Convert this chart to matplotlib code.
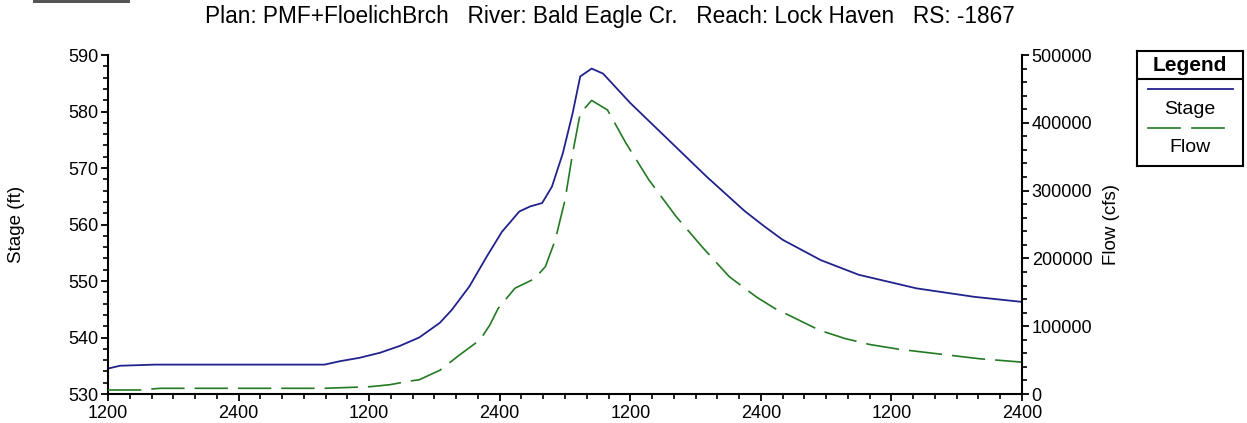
import matplotlib
matplotlib.use("Agg")
import matplotlib.pyplot as plt
from matplotlib.patches import Rectangle
import numpy as np

plt.rcParams['font.family'] = ['Liberation Sans', 'DejaVu Sans']

# hydrograph at RS -1867, time in hours from the first 1200
stage_hours = [0.0, 1.1, 4.3, 19.9, 21.3, 23.1, 25.0, 26.8, 28.6, 30.5, 31.6, 33.2,
               34.8, 36.2, 37.8, 38.8, 39.9, 40.8, 41.8, 42.7, 43.4, 44.45, 45.5, 48.0,
               51.5, 55.0, 58.5, 60.3, 62.0, 65.5, 69.0, 74.3, 79.6, 84.0]
stage_ft = [534.5, 535.0, 535.2, 535.2, 535.8, 536.4, 537.3, 538.5, 540.0, 542.6, 544.9, 549.0,
            554.3, 558.7, 562.3, 563.2, 563.8, 566.7, 572.6, 579.7, 586.2, 587.6, 586.7, 581.5,
            575.0, 568.5, 562.4, 559.7, 557.3, 553.7, 551.1, 548.7, 547.2, 546.3]

flow_hours = [0.0, 2.9, 4.8, 19.9, 24.1, 25.9, 27.7, 28.6, 30.5, 32.3, 34.2, 35.1,
              35.85, 37.4, 39.2, 40.2, 41.1, 42.0, 42.7, 43.4, 44.45, 45.9, 47.6, 49.7,
              52.2, 54.6, 57.1, 59.6, 61.3, 62.6, 65.4, 67.7, 70.0, 72.7, 76.4, 80.1,
              84.0]
flow_cfs = [5900, 5900, 8400, 8400, 10800, 13700, 19000, 21000, 35000, 57500, 80000, 102000,
            126000, 156000, 170000, 188000, 227000, 286000, 355000, 414000, 433000, 419000, 370000, 316000,
            262000, 217000, 173000, 143000, 126000, 116000, 94000, 82000, 73000, 66000, 59000, 52000,
            47000]

time_labels = ['1200', '2400', '1200', '2400', '1200', '2400', '1200', '2400']
title_text = "Plan: PMF+FloelichBrch   River: Bald Eagle Cr.   Reach: Lock Haven   RS: -1867"

stage_color = '#22228c'
flow_color = '#237a23'

fig = plt.figure(figsize=(12.47, 4.23), dpi=100)
ax = fig.add_axes([108 / 1247, 29 / 423, 914 / 1247, 339 / 423])
ax2 = ax.twinx()

ax.plot(stage_hours, stage_ft, color=stage_color, lw=1.3)
ax2.plot(flow_hours, flow_cfs, color=flow_color, lw=1.2, dashes=(20, 6))

ax.set_xlim(0, 84)
ax.set_ylim(530, 590)
ax2.set_ylim(0, 500000)

ax.set_xticks(np.arange(0, 85, 12))
ax.set_xticklabels(time_labels)
ax.set_xticks(np.arange(0, 85, 2), minor=True)
ax.set_yticks(np.arange(530, 591, 10))
ax.set_yticks(np.arange(530, 591, 2), minor=True)
ax2.set_yticks(np.arange(0, 500001, 100000))
ax2.set_yticks(np.arange(0, 500001, 20000), minor=True)

for a in (ax, ax2):
    a.spines['top'].set_visible(False)
    for s in a.spines.values():
        s.set_linewidth(1.5)
ax.spines['right'].set_visible(False)
ax2.spines['left'].set_visible(False)
ax2.spines['bottom'].set_visible(False)

ax.tick_params(axis='both', which='major', length=5, width=1.3, labelsize=13, direction='out')
ax.tick_params(axis='both', which='minor', length=3.5, width=1.2, direction='out')
ax.tick_params(axis='x', which='major', pad=3)
ax.tick_params(axis='y', which='major', pad=2)
ax2.tick_params(axis='y', which='major', length=5, width=1.3, labelsize=13, pad=2)
ax2.tick_params(axis='y', which='minor', length=3.5, width=1.2)

ax.set_ylabel('Stage (ft)', fontsize=13.5)
ax.yaxis.set_label_coords(-0.091, 0.5)
ax2.set_ylabel('Flow (cfs)', fontsize=13.5, rotation=90)
ax2.yaxis.set_label_coords(1.089, 0.5)

fig.text(205 / 1247, 1 - 17 / 423, title_text, fontsize=16.3, ha='left', va='center')

# tab stub in the top left corner
fig.add_artist(Rectangle((33 / 1247, 1 - 3 / 423), 97 / 1247, 3 / 423,
                         transform=fig.transFigure, color='#555555', lw=0))

# legend panel
lax = fig.add_axes([1137 / 1247, 1 - 166 / 423, 106 / 1247, 115 / 423])
lax.set_xlim(1137, 1243)
lax.set_ylim(166, 51)
lax.set_xticks([])
lax.set_yticks([])
for s in lax.spines.values():
    s.set_linewidth(1.5)
lax.axhline(79, color='black', lw=1.5)
lax.text(1190, 65, 'Legend', fontsize=15, fontweight='bold', ha='center', va='center')
lax.plot([1148, 1233], [89, 89], color=stage_color, lw=1.3)
lax.text(1190, 109, 'Stage', fontsize=14, ha='center', va='center')
lax.plot([1148, 1180], [128, 128], color=flow_color, lw=1.2)
lax.plot([1192, 1224], [128, 128], color=flow_color, lw=1.2)
lax.text(1190, 147, 'Flow', fontsize=14, ha='center', va='center')

fig.savefig('out.png', dpi=100)
